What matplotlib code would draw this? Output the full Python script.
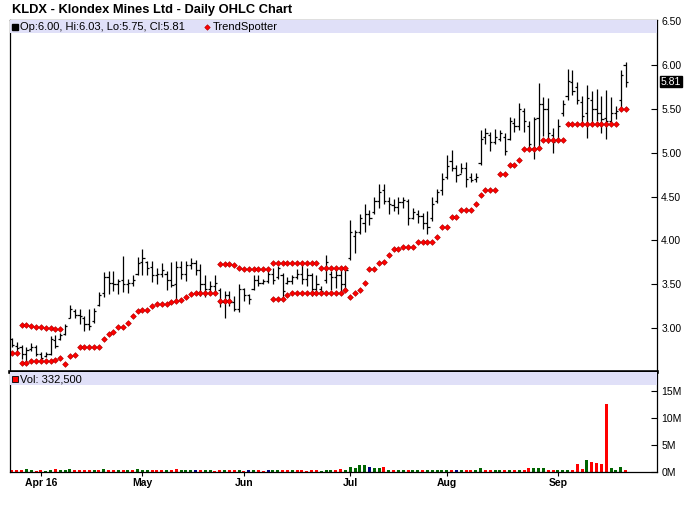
import numpy as np
import pandas as pd
import matplotlib
matplotlib.use("Agg")
import matplotlib.pyplot as plt
from matplotlib.patches import Rectangle

plt.rcParams['font.family'] = ['Liberation Sans', 'DejaVu Sans']

# ---------------- data ----------------
holidays = ['2016-03-25', '2016-05-30', '2016-07-04', '2016-09-05']
dates = pd.bdate_range('2016-03-23', '2016-09-22')
dates = dates[~dates.isin(pd.to_datetime(holidays))]

opens = [2.88, 2.80, 2.78, 2.70, 2.76, 2.78, 2.70, 2.68, 2.70, 2.87,
         2.88, 2.93, 3.12, 3.20, 3.15, 3.12, 3.05, 3.08, 3.26, 3.40,
         3.58, 3.52, 3.50, 3.55, 3.50, 3.52, 3.62, 3.75, 3.75, 3.70,
         3.60, 3.62, 3.62, 3.55, 3.50, 3.70, 3.62, 3.72, 3.74, 3.66,
         3.50, 3.45, 3.48, 3.44, 3.30, 3.38, 3.30, 3.22, 3.45, 3.38,
         3.45, 3.55, 3.52, 3.54, 3.62, 3.58, 3.60, 3.52, 3.54, 3.58,
         3.62, 3.56, 3.60, 3.45, 3.45, 3.55, 3.62, 3.58, 3.60, 3.50,
         3.80, 4.05, 4.10, 4.20, 4.30, 4.32, 4.45, 4.58, 4.45, 4.40,
         4.38, 4.44, 4.45, 4.26, 4.30, 4.28, 4.20, 4.25, 4.45, 4.58,
         4.72, 4.90, 4.82, 4.76, 4.82, 4.72, 4.70, 4.88, 5.18, 5.20,
         5.12, 5.16, 5.18, 5.16, 5.34, 5.30, 5.48, 5.30, 5.05, 5.40,
         5.56, 5.50, 5.20, 5.15, 5.45, 5.65, 5.80, 5.75, 5.58, 5.45,
         5.60, 5.50, 5.45, 5.40, 5.36, 5.45, 5.60, 6.00]
highs = [2.89, 2.84, 2.81, 2.78, 2.83, 2.81, 2.73, 2.73, 2.91, 2.92,
         2.95, 3.05, 3.26, 3.22, 3.22, 3.14, 3.22, 3.23, 3.41, 3.64,
         3.65, 3.65, 3.56, 3.82, 3.56, 3.60, 3.81, 3.90, 3.77, 3.77,
         3.69, 3.74, 3.65, 3.75, 3.76, 3.77, 3.77, 3.80, 3.78, 3.73,
         3.60, 3.54, 3.60, 3.46, 3.42, 3.42, 3.37, 3.50, 3.46, 3.39,
         3.60, 3.60, 3.56, 3.65, 3.68, 3.71, 3.63, 3.58, 3.61, 3.67,
         3.75, 3.69, 3.63, 3.60, 3.48, 3.83, 3.65, 3.68, 3.70, 3.70,
         4.23, 4.12, 4.30, 4.41, 4.35, 4.50, 4.64, 4.64, 4.49, 4.47,
         4.49, 4.50, 4.47, 4.37, 4.35, 4.31, 4.33, 4.50, 4.59, 4.77,
         4.97, 5.03, 4.86, 4.88, 4.89, 4.77, 4.77, 5.26, 5.28, 5.24,
         5.27, 5.26, 5.22, 5.41, 5.40, 5.57, 5.51, 5.36, 5.41, 5.79,
         5.64, 5.62, 5.28, 5.38, 5.60, 5.95, 5.94, 5.81, 5.65, 5.77,
         5.70, 5.72, 5.65, 5.71, 5.63, 5.53, 5.94, 6.03]
lows = [2.78, 2.74, 2.65, 2.60, 2.74, 2.68, 2.63, 2.67, 2.69, 2.77,
        2.86, 2.92, 3.12, 3.12, 3.05, 2.97, 2.98, 3.06, 3.25, 3.36,
        3.39, 3.42, 3.39, 3.41, 3.40, 3.48, 3.61, 3.61, 3.60, 3.53,
        3.50, 3.58, 3.44, 3.47, 3.30, 3.56, 3.54, 3.67, 3.61, 3.37,
        3.35, 3.39, 3.41, 3.24, 3.12, 3.25, 3.20, 3.18, 3.31, 3.27,
        3.44, 3.48, 3.50, 3.52, 3.50, 3.56, 3.33, 3.50, 3.50, 3.56,
        3.50, 3.48, 3.37, 3.39, 3.39, 3.52, 3.44, 3.46, 3.42, 3.44,
        3.78, 3.86, 4.07, 4.09, 4.18, 4.30, 4.37, 4.41, 4.30, 4.33,
        4.30, 4.37, 4.18, 4.24, 4.20, 4.13, 4.07, 4.22, 4.43, 4.52,
        4.70, 4.79, 4.67, 4.77, 4.61, 4.66, 4.67, 4.86, 5.10, 5.02,
        5.10, 5.13, 4.97, 5.14, 5.23, 5.26, 5.24, 5.04, 4.93, 5.07,
        5.19, 5.11, 5.00, 5.13, 5.42, 5.60, 5.66, 5.55, 5.34, 5.17,
        5.32, 5.36, 5.22, 5.15, 5.32, 5.38, 5.52, 5.75]
closes = [2.81, 2.77, 2.70, 2.75, 2.79, 2.70, 2.66, 2.70, 2.88, 2.80,
          2.92, 3.02, 3.22, 3.15, 3.14, 3.05, 3.02, 3.20, 3.38, 3.58,
          3.52, 3.50, 3.54, 3.50, 3.52, 3.55, 3.74, 3.80, 3.68, 3.60,
          3.62, 3.66, 3.55, 3.49, 3.70, 3.62, 3.72, 3.74, 3.66, 3.50,
          3.45, 3.48, 3.52, 3.30, 3.38, 3.30, 3.22, 3.45, 3.38, 3.33,
          3.55, 3.52, 3.54, 3.62, 3.55, 3.68, 3.42, 3.54, 3.58, 3.62,
          3.56, 3.60, 3.45, 3.50, 3.42, 3.75, 3.58, 3.60, 3.50, 3.66,
          4.10, 4.10, 4.25, 4.30, 4.25, 4.45, 4.55, 4.45, 4.42, 4.38,
          4.44, 4.46, 4.25, 4.32, 4.28, 4.20, 4.15, 4.42, 4.55, 4.70,
          4.85, 4.82, 4.75, 4.82, 4.70, 4.69, 4.72, 5.15, 5.22, 5.12,
          5.18, 5.22, 5.02, 5.36, 5.30, 5.50, 5.36, 5.10, 5.38, 5.55,
          5.50, 5.22, 5.12, 5.30, 5.55, 5.82, 5.70, 5.60, 5.42, 5.62,
          5.50, 5.45, 5.38, 5.36, 5.45, 5.48, 5.88, 5.81]

nan = np.nan
trend_low = [2.72, 2.72, 2.60, 2.60, 2.62, 2.62, 2.62, 2.62, 2.62, 2.64,
             2.655, 2.595, 2.68, 2.69, 2.78, 2.78, 2.78, 2.79, 2.79, 2.875,
             2.93, 2.96, 3.01, 3.01, 3.06, 3.14, 3.19, 3.205, 3.205, 3.25,
             3.27, 3.28, 3.28, 3.295, 3.31, 3.32, 3.36, 3.39, 3.405, 3.405,
             3.405, 3.405, 3.405, 3.31, 3.31, 3.31, nan, nan, nan, nan,
             nan, nan, nan, nan, 3.337, 3.337, 3.337, 3.379, 3.405, 3.405,
             3.405, 3.405, 3.405, 3.405, 3.405, 3.405, 3.405, 3.405, 3.405, 3.44,
             3.35, 3.405, 3.43, 3.52, 3.67, 3.67, 3.746, 3.757, 3.83, 3.90,
             3.90, 3.93, 3.93, 3.93, 3.977, 3.977, 3.977, 3.977, 4.042, 4.155,
             4.155, 4.269, 4.269, 4.348, 4.348, 4.348, 4.417, 4.519, 4.579, 4.579,
             4.579, 4.757, 4.757, 4.86, 4.86, 4.92, 5.042, 5.042, 5.042, 5.05,
             5.146, 5.146, 5.146, 5.146, 5.146, 5.326, 5.326, 5.326, 5.326, 5.326,
             5.326, 5.326, 5.326, 5.326, 5.326, 5.326, 5.496, 5.496]
trend_high = [nan, nan, 3.04, 3.04, 3.02, 3.01, 3.01, 3.00, 3.00, 2.99,
              2.99, nan, nan, nan, nan, nan, nan, nan, nan, nan,
              nan, nan, nan, nan, nan, nan, nan, nan, nan, nan,
              nan, nan, nan, nan, nan, nan, nan, nan, nan, nan,
              nan, nan, nan, 3.727, 3.727, 3.727, 3.716, 3.689, 3.678, 3.678,
              3.678, 3.678, 3.678, 3.678, 3.746, 3.746, 3.746, 3.746, 3.746, 3.746,
              3.746, 3.746, 3.746, 3.746, 3.689, 3.689, 3.689, 3.689, 3.689, 3.689] + [nan] * 58

volume_m = [0.2, 0.2, 0.2, 0.4, 0.2, 0.05, 0.2, 0.05, 0.2, 0.4,
            0.2, 0.2, 0.4, 0.2, 0.2, 0.2, 0.2, 0.2, 0.2, 0.55,
            0.2, 0.2, 0.2, 0.2, 0.2, 0.2, 0.4, 0.2, 0.2, 0.2,
            0.2, 0.2, 0.2, 0.2, 0.55, 0.2, 0.2, 0.2, 0.2, 0.2,
            0.2, 0.2, 0.05, 0.2, 0.37, 0.2, 0.2, 0.37, 0.05, 0.2,
            0.2, 0.2, 0.05, 0.2, 0.2, 0.2, 0.37, 0.2, 0.2, 0.2,
            0.2, 0.05, 0.2, 0.2, 0.05, 0.2, 0.2, 0.2, 0.55, 0.2,
            0.85, 0.6, 1.2, 1.2, 0.8, 0.6, 0.6, 0.8, 0.2, 0.2,
            0.2, 0.2, 0.37, 0.2, 0.2, 0.2, 0.2, 0.2, 0.37, 0.37,
            0.2, 0.37, 0.2, 0.2, 0.37, 0.37, 0.2, 0.56, 0.37, 0.37,
            0.37, 0.37, 0.37, 0.2, 0.2, 0.37, 0.37, 0.56, 0.56, 0.56,
            0.56, 0.37, 0.37, 0.37, 0.37, 0.37, 0.37, 1.4, 0.4, 2.2,
            1.8, 1.6, 1.4, 12.6, 0.6, 0.2, 0.8, 0.3325]
# r = down, g = up, n = unchanged
volume_dir = ["r", "r", "r", "g", "g", "r", "r", "g", "g", "r",
              "g", "g", "g", "r", "r", "r", "r", "g", "r", "g",
              "r", "r", "g", "r", "g", "r", "g", "g", "g", "r",
              "r", "r", "g", "r", "r", "g", "g", "g", "n", "r",
              "g", "g", "r", "r", "g", "r", "r", "g", "r", "n",
              "g", "r", "r", "n", "g", "g", "r", "r", "g", "r",
              "r", "r", "r", "r", "g", "g", "g", "r", "r", "g",
              "g", "g", "g", "g", "n", "g", "g", "r", "g", "r",
              "g", "g", "r", "g", "g", "r", "g", "g", "g", "g",
              "g", "r", "n", "g", "r", "r", "g", "g", "r", "r",
              "g", "g", "r", "g", "r", "g", "r", "r", "g", "g",
              "g", "r", "r", "g", "g", "g", "r", "r", "r", "g",
              "r", "r", "r", "r", "g", "g", "g", "r"]

ohlc_label = "Op:6.00, Hi:6.03, Lo:5.75, Cl:5.81"
vol_label = "Vol: 332,500"
month_labels = ["Apr 16", "May", "Jun", "Jul", "Aug", "Sep"]
price_ticks = [3.00, 3.50, 4.00, 4.50, 5.00, 5.50, 6.00, 6.50]
vol_ticks = [0, 5, 10, 15]

# ---------------- figure ----------------
W, H = 700, 512
fig = plt.figure(figsize=(W / 100, H / 100), dpi=100)

def fx(px):
    return px / W

def fy(py):
    return 1 - py / H

left_px, right_px = 10, 657
span = right_px - left_px
ax = fig.add_axes([fx(left_px), fy(372), fx(span), fy(20) - fy(372)])
axv = fig.add_axes([fx(left_px), fy(471.5), fx(span), fy(372) - fy(471.5)])

n = len(closes)
x = np.arange(n)
xlim = (-0.4, 133.5)

# price panel
ax.vlines(x, lows, highs, color='black', lw=0.9)
ax.hlines(opens, x - 0.45, x, color='black', lw=0.9)
ax.hlines(closes, x, x + 0.45, color='black', lw=0.9)
mk = dict(marker='D', ms=2.9, mfc='#ff0000', mec='#b00000', mew=0.45, ls='none')
ax.plot(x, trend_low, **mk)
ax.plot(x, trend_high, **mk)
ax.set_xlim(*xlim)
ax.set_ylim(2.50, 6.512)

band_h = 13 / 352
ax.add_patch(Rectangle((0, 1 - band_h), 1, band_h, transform=ax.transAxes,
                       facecolor='#e0e0f8', edgecolor='none', zorder=3))
yb = 1 - 6.5 / 352
ax.plot([(15 - left_px) / span], [yb], transform=ax.transAxes, marker='s', ms=4.3,
        color='black', ls='none', zorder=4, clip_on=False)
ax.text((20 - left_px) / span, yb, ohlc_label, transform=ax.transAxes, fontsize=8,
        va='center', ha='left', zorder=4)
ax.plot([(207 - left_px) / span], [yb], transform=ax.transAxes,
        **{**mk, 'ms': 2.8}, zorder=4)
ax.text((213 - left_px) / span, yb, "TrendSpotter",
        transform=ax.transAxes, fontsize=8, va='center', ha='left', zorder=4)

ax.yaxis.tick_right()
ax.set_yticks(price_ticks)
ax.set_yticklabels([f"{v:.2f}" for v in price_ticks])
ax.tick_params(axis='y', direction='in', length=4, width=0.8, pad=3, labelsize=7.5)
ax.set_xticks([])
for s in ['left', 'right', 'top']:
    ax.spines[s].set_linewidth(0.9)
ax.spines['bottom'].set_visible(False)

# last close box
ax.text(1.0 + 4 / span, closes[-1], f"{closes[-1]:.2f}",
        transform=ax.get_yaxis_transform(), fontsize=7.5, color='white',
        va='center', ha='left',
        bbox=dict(boxstyle='square,pad=0.08', fc='black', ec='black'))

# volume panel
cmap = {'r': '#ff0000', 'g': '#006400', 'n': '#000080'}
vcol = [cmap[c] for c in volume_dir]
axv.bar(x, volume_m, width=0.62, color=vcol, linewidth=0)
axv.set_xlim(*xlim)
axv.set_ylim(0, 18.5)
vband_h = 12.5 / 99.5
axv.add_patch(Rectangle((0, 1 - vband_h), 1, vband_h, transform=axv.transAxes,
                        facecolor='#e0e0f8', edgecolor='none', zorder=3))
axv.plot([(15 - left_px) / span], [1 - 7 / 99.5], transform=axv.transAxes, marker='s',
         ms=5, mfc='#ff0000', mec='black', mew=0.6, ls='none', zorder=4)
axv.text((20 - left_px) / span, 1 - 7 / 99.5, vol_label, transform=axv.transAxes,
         fontsize=8, va='center', ha='left', zorder=4)
axv.yaxis.tick_right()
axv.set_yticks(vol_ticks)
axv.set_yticklabels([f"{v}M" for v in vol_ticks])
axv.tick_params(axis='y', direction='in', length=4, width=0.8, pad=3, labelsize=7.5)

month_pos = []
seen = set()
for i, d in enumerate(dates):
    key = (d.year, d.month)
    if key not in seen:
        seen.add(key)
        if i > 0:
            month_pos.append(i)
axv.set_xticks(month_pos)
axv.set_xticklabels(month_labels, fontweight='bold')
axv.tick_params(axis='x', direction='out', length=3, width=0.8, pad=2, labelsize=7.5)
axv.spines['top'].set_linewidth(2.6)
for s in ['left', 'right', 'bottom']:
    axv.spines[s].set_linewidth(0.9)

fig.text(fx(12), fy(9.5), "KLDX - Klondex Mines Ltd - Daily OHLC Chart",
         fontsize=9.3, fontweight='bold', va='center', ha='left')

fig.savefig("out.png", dpi=100, facecolor='white')
